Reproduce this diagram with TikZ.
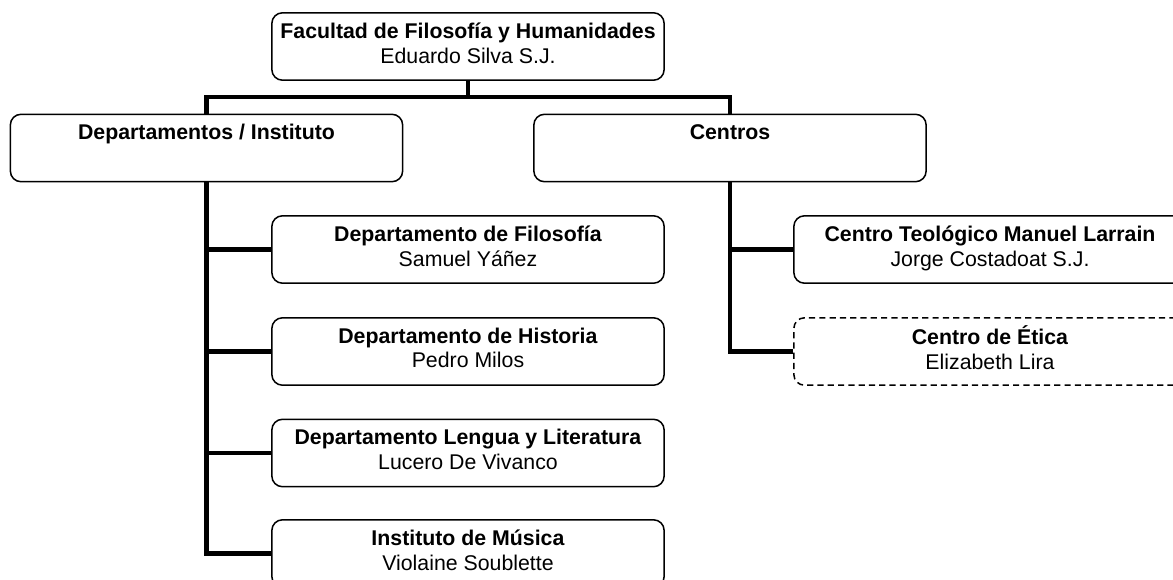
\documentclass[tikz,border=0pt]{standalone}
\usepackage{fontspec}
\setmainfont{Liberation Sans}
\usetikzlibrary{positioning}

\begin{document}
\begin{tikzpicture}[x=0.5634pt,y=-0.5634pt]
	% Fix the page to the size of the chart.
	\useasboundingbox (0,0) rectangle (1173,580);
	\clip (0,0) rectangle (1173,580);

	\tikzstyle{unit box}=[draw,line width=0.85pt,rounded corners=6pt,minimum width=221pt,minimum height=38pt,inner sep=0pt,align=center,font=\fontsize{12}{14}\selectfont]
	\tikzstyle{link line}=[line width=2.8pt]

	% The faculty on top.
	\node (fac) at (468,46.5) [unit box] {\textbf{Facultad de Filosofía y Humanidades}\\Eduardo Silva S.J.\strut};

	% The two groups below it.
	\node (deps) at (206.5,148) [unit box] {\textbf{Departamentos / Instituto}\\\strut};
	\node (cent) at (730,148) [unit box] {\textbf{Centros}\\\strut};

	% Departments and institute, left column.
	\node (fil) at (468,249.5) [unit box] {\textbf{Departamento de Filosofía}\\Samuel Yáñez\strut};
	\node (his) at (468,351.5) [unit box] {\textbf{Departamento de Historia}\\Pedro Milos\strut};
	\node (len) at (468,453) [unit box] {\textbf{Departamento Lengua y Literatura}\\Lucero De Vivanco\strut};
	\node (mus) at (468,553.5) [unit box] {\textbf{Instituto de Música}\\Violaine Soublette\strut};

	% Centres, right column. The ethics centre is drawn dashed.
	\node (teo) at (990,249.5) [unit box] {\textbf{Centro Teológico Manuel Larrain}\\Jorge Costadoat S.J.\strut};
	\node (eti) at (990,351.5) [unit box, dash pattern=on 3.5pt off 2.3pt] {\textbf{Centro de Ética}\\Elizabeth Lira\strut};

	% The bar under the faculty.
	\coordinate (bar) at (468,97);
	\draw [link line] (fac.south) -- (bar);
	\draw [link line] (deps.north) |- (bar) -| (cent.north);

	% Spines down to each unit.
	\draw [link line] (deps.south) |- (fil.west);
	\draw [link line] (deps.south) |- (his.west);
	\draw [link line] (deps.south) |- (len.west);
	\draw [link line] (deps.south) |- (mus.west);
	\draw [link line] (cent.south) |- (teo.west);
	\draw [link line] (cent.south) |- (eti.west);
\end{tikzpicture}
\end{document}
